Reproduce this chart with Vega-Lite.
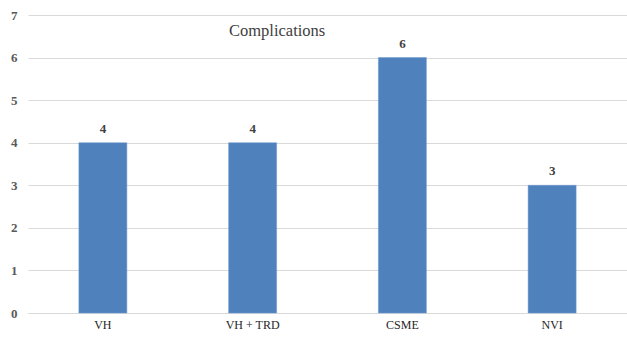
{
  "$schema": "https://vega.github.io/schema/vega-lite/v6.json",
  "width": 599,
  "height": 298,
  "autosize": {"type": "none"},
  "padding": {"left": 28, "top": 15, "right": 0, "bottom": 24},
  "background": "white",
  "title": {
    "text": "Complications",
    "anchor": "start",
    "frame": "group",
    "dx": 201,
    "offset": -30,
    "font": "Liberation Serif",
    "fontSize": 16.5,
    "fontWeight": "normal",
    "color": "#404040"
  },
  "data": {
    "values": [
      {"group": "VH", "count": 4},
      {"group": "VH + TRD", "count": 4},
      {"group": "CSME", "count": 6},
      {"group": "NVI", "count": 3}
    ]
  },
  "encoding": {
    "x": {
      "field": "group",
      "type": "nominal",
      "sort": null,
      "scale": {"paddingInner": 0, "paddingOuter": 0},
      "axis": {
        "title": null,
        "labelAngle": 0,
        "ticks": false,
        "domainColor": "#d9d9d9",
        "labelFont": "Liberation Serif",
        "labelFontSize": 12,
        "labelColor": "#262626",
        "labelPadding": 6
      }
    },
    "y": {
      "field": "count",
      "type": "quantitative",
      "scale": {"domain": [0, 7], "nice": false},
      "axis": {
        "title": null,
        "values": [0, 1, 2, 3, 4, 5, 6, 7],
        "labelOverlap": false,
        "domain": false,
        "ticks": false,
        "gridColor": "#d9d9d9",
        "labelFont": "Liberation Serif",
        "labelFontWeight": "bold",
        "labelFontSize": 13,
        "labelColor": "#595959",
        "labelPadding": 11
      }
    }
  },
  "layer": [
    {
      "mark": {"type": "bar", "size": 48, "color": "#4f81bd", "stroke": "#6f9ad0", "strokeWidth": 0.5}
    },
    {
      "mark": {
        "type": "text",
        "dy": -14,
        "font": "Liberation Serif",
        "fontWeight": "bold",
        "fontSize": 13,
        "color": "#404040"
      },
      "encoding": {"text": {"field": "count", "type": "quantitative"}}
    }
  ],
  "config": {"view": {"stroke": null}}
}
